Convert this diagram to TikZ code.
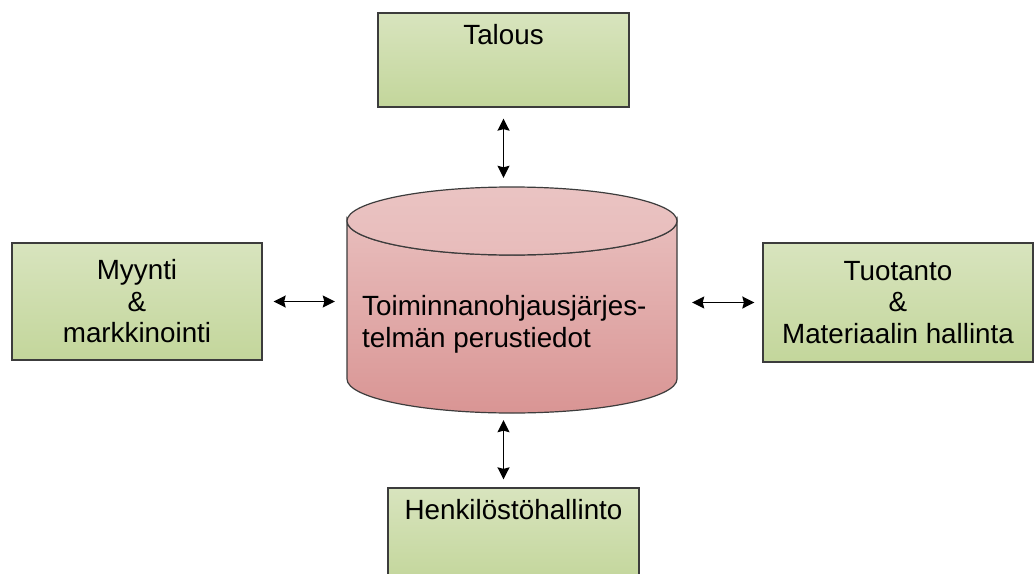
\documentclass[tikz,border=0pt]{standalone}
\usepackage{fontspec}
\setmainfont{Liberation Sans}
\usetikzlibrary{arrows.meta,calc}
\definecolor{boxtop}{HTML}{D8E4BE}
\definecolor{boxbot}{HTML}{C3D69B}
\definecolor{dbtop}{HTML}{E8BDBC}
\definecolor{dbbot}{HTML}{D99594}
\definecolor{edge}{HTML}{3C3C3C}
\begin{document}
\begin{tikzpicture}[x=1pt,y=-1pt,
  every node/.style={font=\fontsize{27.8}{31.5}\selectfont},
  unit/.style={draw=edge,line width=1.3pt,top color=boxtop,bottom color=boxbot,
    inner sep=0pt,align=center},
  tip/.tip={Stealth[length=12pt,width=12pt,inset=1.5pt]},
  link/.style={line width=1.5pt,tip-tip}]
  \clip (0,0) rectangle (1036,573);
  \fill[white] (0,0) rectangle (1036,573);

  % the database cylinder
  \shade[top color=dbtop,bottom color=dbbot,draw=edge,line width=1.2pt]
    (347,221) -- (347,379) arc[start angle=180,end angle=0,x radius=165,y radius=34]
    -- (677,221) arc[start angle=0,end angle=180,x radius=165,y radius=34] -- cycle;
  \shade[top color=dbtop!90!white,bottom color=dbtop!97!dbbot,draw=edge,line width=1.2pt]
    (512,221) ellipse[x radius=165,y radius=34];
  \node (db) [minimum width=330pt,minimum height=226pt,inner sep=0pt] at (512,300) {};
  \node (dbtext) [anchor=base west,align=left,inner sep=0pt] at (362,347)
    {Toiminnanohjausjärjes-\\telmän perustiedot};

  % surrounding units
  \node (talous) [unit,minimum width=251pt,minimum height=94pt] at (503.5,60) {};
  \node (talousT) [anchor=base] at ($(talous.north)+(0,32)$) {Talous};
  \node (myynti) [unit,minimum width=250pt,minimum height=117pt] at (137,301.5)
    {Myynti\\\&\\markkinointi};
  \node (tuotanto) [unit,minimum width=270pt,minimum height=119pt] at (898,302.5)
    {Tuotanto\\\&\\Materiaalin hallinta};
  \node (henk) [unit,minimum width=251pt,minimum height=94pt] at (513.5,535) {};
  \node (henkT) [anchor=base] at ($(henk.north)+(0,32)$) {Henkilöstöhallinto};

  % connectors
  \draw[link,shorten <=11pt,shorten >=9pt] (talous.south) -- (talous.south |- db.north);
  \draw[link,shorten <=7pt,shorten >=8pt] (talous.south |- db.south) -- (talous.south |- henk.north);
  \draw[link,shorten <=11pt,shorten >=12pt] (myynti.east) -- (myynti.east -| db.west);
  \draw[link,shorten <=15pt,shorten >=8pt] (db.east |- tuotanto.west) -- (tuotanto.west);
\end{tikzpicture}
\end{document}
